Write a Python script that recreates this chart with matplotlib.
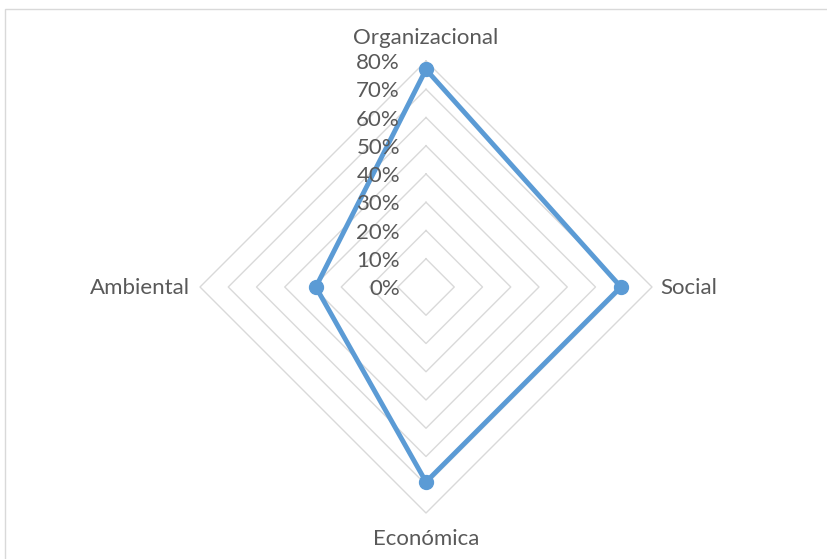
import numpy as np
import matplotlib
matplotlib.use("Agg")
import matplotlib.pyplot as plt
import matplotlib.transforms as mtransforms
from matplotlib.patches import Rectangle

categories = ["Organizacional", "Social", "Económica", "Ambiental"]
values = [0.77, 0.69, 0.69, 0.39]
levels = [0.0, 0.1, 0.2, 0.3, 0.4, 0.5, 0.6, 0.7, 0.8]
level_labels = ["0%", "10%", "20%", "30%", "40%", "50%", "60%", "70%", "80%"]

W, H = 828, 559
dpi = 100
fig = plt.figure(figsize=(W / dpi, H / dpi), dpi=dpi)
plt.rcParams['font.family'] = ['Lato', 'DejaVu Sans']

cx, cy, R = 426, 287, 226
ax = fig.add_axes([(cx - R) / W, 1 - (cy + R) / H, 2 * R / W, 2 * R / H], projection='polar')
ax.set_theta_zero_location('N')
ax.set_theta_direction(-1)
ax.set_ylim(0, 0.8)
ax.grid(False)
ax.spines['polar'].set_visible(False)
ax.set_xticks([])
ax.set_yticks([])
ax.patch.set_alpha(0)

n = len(categories)
angles = np.arange(n) * 2 * np.pi / n
ang_closed = np.append(angles, angles[0])

grid_col = '#D9D9D9'
for lv in levels:
    ax.plot(ang_closed, [lv] * (n + 1), color=grid_col, lw=1.0, zorder=1, clip_on=False)

vals_closed = values + [values[0]]
ax.plot(ang_closed, vals_closed, color='#5B9BD5', lw=3.5, zorder=3, clip_on=False,
        solid_joinstyle='miter')
ax.plot(angles, values, 'o', color='#5B9BD5', ms=10, zorder=4, clip_on=False)

txt_col = '#595959'
fs = 16
for lv, lab in zip(levels, level_labels):
    tr = mtransforms.offset_copy(ax.transData, fig=fig, x=-26, y=-2, units='dots')
    ax.text(0, lv, lab, transform=tr, ha='right', va='center', fontsize=fs, color=txt_col)

offsets = [(0, 23, 'center', 'center'), (8, -1, 'left', 'center'),
           (0, -26, 'center', 'center'), (-10, -1, 'right', 'center')]
for a, cat, (dx, dy, ha, va) in zip(angles, categories, offsets):
    tr = mtransforms.offset_copy(ax.transData, fig=fig, x=dx, y=dy, units='dots')
    ax.text(a, 0.8, cat, transform=tr, ha=ha, va=va, fontsize=fs, color=txt_col)

fig.patches.append(Rectangle((5 / W, -0.1), 1.2, 1.1 - 9 / H, transform=fig.transFigure,
                             fill=False, edgecolor=grid_col, lw=1.0))

fig.savefig("out.png", dpi=dpi)
